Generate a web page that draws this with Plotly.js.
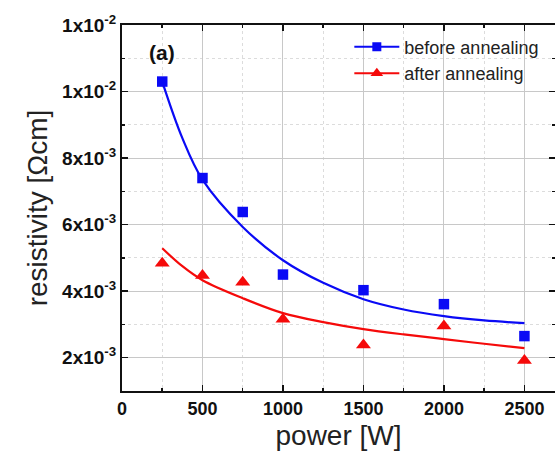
<!DOCTYPE html>
<html>
<head>
<meta charset="utf-8">
<script src="https://cdn.plot.ly/plotly-3.0.1.min.js"></script>
<style>html,body{margin:0;padding:0;background:#fff;}#chart{width:555px;height:454px;}</style>
</head>
<body>
<div id="chart"></div>
<script>
// measured data
const power = [250, 500, 750, 1000, 1500, 2000, 2500];
const beforeAnnealing = [0.0103, 0.0074, 0.00638, 0.00450, 0.00403, 0.00361, 0.00265];
const afterAnnealing  = [0.00484, 0.00447, 0.00427, 0.00316, 0.00238, 0.00295, 0.00192];
// fitted curves
const fitPower = [250, 375, 500, 750, 1000, 1250, 1500, 1750, 2000, 2250, 2500];
const beforeFit = [0.0103, 0.0086, 0.00735, 0.00593, 0.00493, 0.00425, 0.00376, 0.00345, 0.00325, 0.00312, 0.00304];
const afterFit  = [0.00529, 0.00475, 0.00433, 0.00379, 0.00334, 0.00307, 0.00286, 0.00270, 0.00256, 0.00242, 0.00229];
// axis ticks
const yTickVals = [0.002, 0.004, 0.006, 0.008, 0.010, 0.012];
const yTickText = ['2x10<sup>-3</sup>', '4x10<sup>-3</sup>', '6x10<sup>-3</sup>', '8x10<sup>-3</sup>', '1x10<sup>-2</sup>', '1x10<sup>-2</sup>'];
const xTickVals = [0, 500, 1000, 1500, 2000, 2500];

const blue = '#0a0af5', red = '#f50a0a';
const traces = [
  {x: fitPower, y: beforeFit, mode: 'lines', line: {color: blue, width: 2.2, shape: 'spline'}, showlegend: false, hoverinfo: 'skip'},
  {x: fitPower, y: afterFit, mode: 'lines', line: {color: red, width: 2.2, shape: 'spline'}, showlegend: false, hoverinfo: 'skip'},
  {x: power, y: beforeAnnealing, mode: 'markers', marker: {symbol: 'square', size: 10.5, color: blue}, showlegend: false},
  {x: power, y: afterAnnealing, mode: 'markers', marker: {symbol: 'triangle-up', size: 13, color: red}, showlegend: false},
  {x: [null], y: [null], name: 'before annealing', mode: 'lines+markers', line: {color: blue, width: 2}, marker: {symbol: 'square', size: 9, color: blue}},
  {x: [null], y: [null], name: 'after annealing', mode: 'lines+markers', line: {color: red, width: 2}, marker: {symbol: 'triangle-up', size: 11, color: red}}
];
const font = 'Liberation Sans, Arial, sans-serif';
const layout = {
  width: 555, height: 454,
  margin: {l: 122, r: 0, t: 25, b: 63},
  paper_bgcolor: '#fff', plot_bgcolor: '#fff',
  font: {family: font, color: '#111'},
  showlegend: true,
  legend: {x: 0.525, y: 0.99, xanchor: 'left', yanchor: 'top', bgcolor: 'rgba(0,0,0,0)', itemwidth: 45, font: {size: 18, family: font, color: '#222'}, tracegroupgap: 0},
  xaxis: {
    range: [0, 2690], tickvals: xTickVals, ticks: 'inside', ticklen: 6, tickwidth: 1.5, tickcolor: '#111',
    showline: true, linecolor: '#111', linewidth: 2, mirror: 'allticks',
    showgrid: true, gridcolor: '#c8c8c8', gridwidth: 1, zeroline: false,
    tickfont: {size: 18, family: font, weight: 'bold', color: '#111'},
    minor: {dtick: 250, ticks: 'inside', ticklen: 3, tickcolor: '#111', showgrid: true, gridcolor: '#dcdcdc', griddash: 'dot', gridwidth: 1},
    title: {text: 'power [W]', font: {size: 28, family: font, color: '#222'}, standoff: 8}
  },
  yaxis: {
    range: [0.001, 0.012], tickvals: yTickVals, ticktext: yTickText, ticks: 'inside', ticklen: 6, tickwidth: 1.5, tickcolor: '#111',
    showline: true, linecolor: '#111', linewidth: 2, mirror: 'allticks',
    showgrid: true, gridcolor: '#c8c8c8', gridwidth: 1, zeroline: false,
    tickfont: {size: 19, family: font, weight: 'bold', color: '#111'},
    minor: {dtick: 0.001, tick0: 0.001, ticks: 'inside', ticklen: 3, tickcolor: '#111', showgrid: true, gridcolor: '#dcdcdc', griddash: 'dot', gridwidth: 1},
    title: {text: 'resistivity [Ωcm]', font: {size: 28, family: font, color: '#222'}, standoff: 6}
  },
  annotations: [
    {text: '<b>(a)</b>', x: 250, y: 0.01116, xref: 'x', yref: 'y', showarrow: false, font: {size: 21, family: font, color: '#111'}}
  ]
};
Plotly.newPlot('chart', traces, layout, {displayModeBar: false, staticPlot: true});
</script>
</body>
</html>
